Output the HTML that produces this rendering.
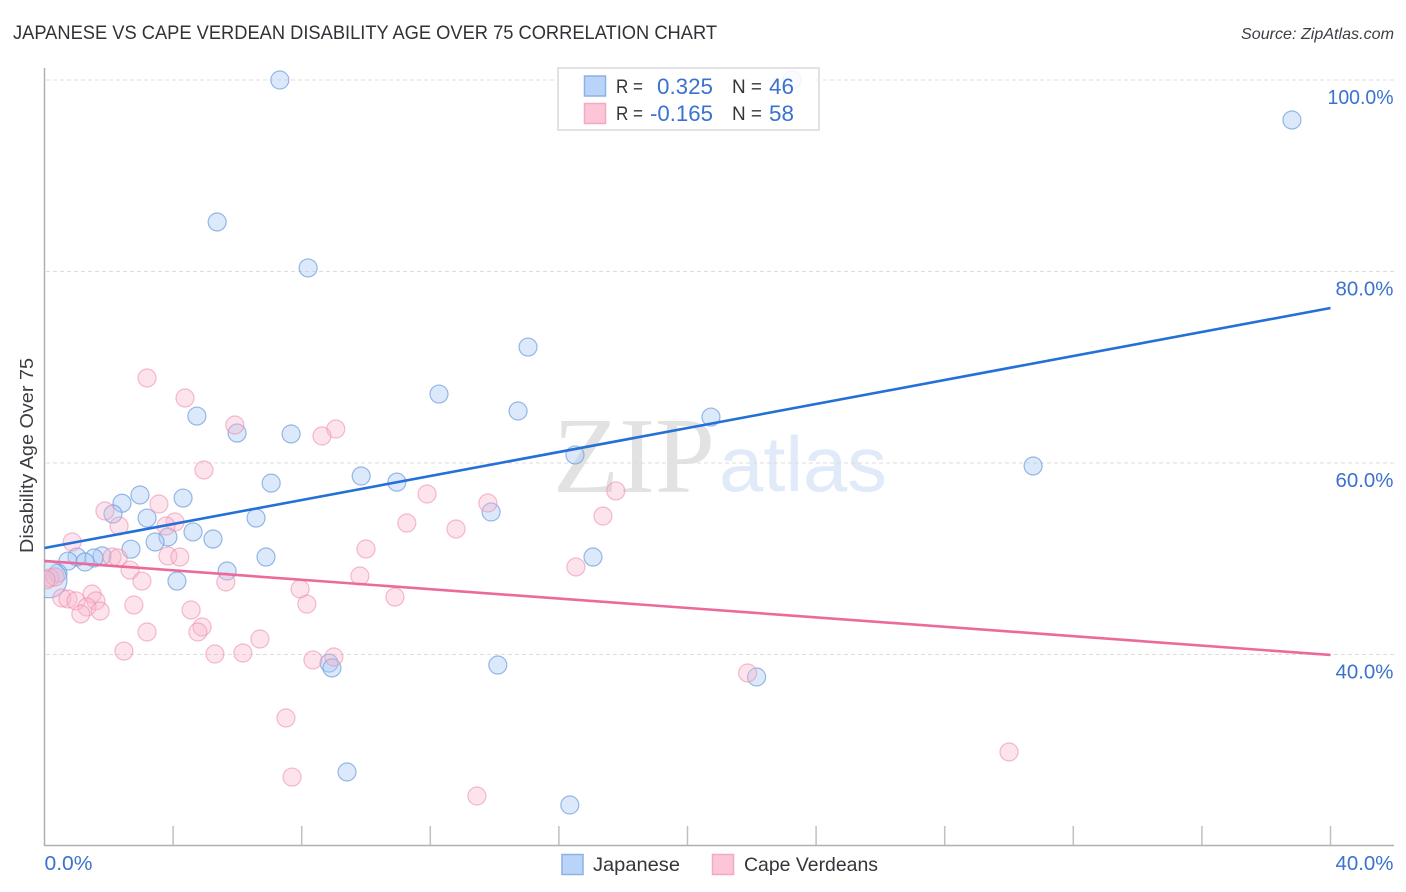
<!DOCTYPE html>
<html lang="en">
<head>
<meta charset="utf-8">
<title>Japanese vs Cape Verdean Disability Age Over 75 Correlation Chart</title>
<style>
html,body{margin:0;padding:0;background:#fff;}
svg{display:block;}
text{font-family:"Liberation Sans",sans-serif;}
</style>
</head>
<body>
<svg id="chart" xmlns="http://www.w3.org/2000/svg" width="1406" height="892" viewBox="0 0 1406 892">
  <rect x="0" y="0" width="1406" height="892" fill="#ffffff"/>
  <text x="13" y="39" font-size="19" fill="#2f3237" textLength="704" lengthAdjust="spacingAndGlyphs">JAPANESE VS CAPE VERDEAN DISABILITY AGE OVER 75 CORRELATION CHART</text>
  <text x="1241" y="39" font-size="16" font-style="italic" fill="#3b3f45" textLength="153" lengthAdjust="spacingAndGlyphs">Source: ZipAtlas.com</text>
  <g id="watermark">
    <text x="553" y="492" font-size="108" fill="#e2e2e2" style="font-family:'Liberation Serif',serif" textLength="162" lengthAdjust="spacingAndGlyphs">ZIP</text>
    <text x="719" y="491" font-size="78" fill="#e0eaf8" textLength="168" lengthAdjust="spacingAndGlyphs">atlas</text>
  </g>
  <g id="grid"></g>
  <g id="axes"></g>
  <g id="points"></g>
  <g id="trends"></g>
  <g id="labels"></g>
  <text transform="translate(33,553) rotate(-90)" font-size="18" fill="#3a3d42" textLength="195" lengthAdjust="spacingAndGlyphs">Disability Age Over 75</text>
  <g>
    <rect x="558" y="68" width="261" height="62" fill="#ffffff" fill-opacity="0.86" stroke="#e2e2e2" stroke-width="2"/>
    <rect x="584.5" y="76" width="21" height="20" fill="#b9d4f8" stroke="#8ab2e6" stroke-width="1.5"/>
    <rect x="584.5" y="103.5" width="21" height="20" fill="#fcc6d8" stroke="#f3a9c2" stroke-width="1.5"/>
    <text x="616" y="93" font-size="19" fill="#33363b" textLength="27" lengthAdjust="spacingAndGlyphs">R =</text>
    <text x="657" y="94" font-size="22" fill="#3b72cf" textLength="56" lengthAdjust="spacingAndGlyphs">0.325</text>
    <text x="732" y="93" font-size="19" fill="#33363b" textLength="30" lengthAdjust="spacingAndGlyphs">N =</text>
    <text x="769" y="94" font-size="22" fill="#3b72cf" textLength="25" lengthAdjust="spacingAndGlyphs">46</text>
    <text x="616" y="120" font-size="19" fill="#33363b" textLength="27" lengthAdjust="spacingAndGlyphs">R =</text>
    <text x="650" y="121" font-size="22" fill="#3b72cf" textLength="63" lengthAdjust="spacingAndGlyphs">-0.165</text>
    <text x="732" y="120" font-size="19" fill="#33363b" textLength="30" lengthAdjust="spacingAndGlyphs">N =</text>
    <text x="769" y="121" font-size="22" fill="#3b72cf" textLength="25" lengthAdjust="spacingAndGlyphs">58</text>
  </g>
  <g>
    <rect x="562" y="854.5" width="21" height="20" fill="#b9d4f8" stroke="#8ab2e6" stroke-width="1.5"/>
    <text x="593" y="871" font-size="19.5" fill="#33363b" textLength="87" lengthAdjust="spacingAndGlyphs">Japanese</text>
    <rect x="712.5" y="854.5" width="21" height="20" fill="#fcc6d8" stroke="#f3a9c2" stroke-width="1.5"/>
    <text x="744" y="871" font-size="19.5" fill="#33363b" textLength="134" lengthAdjust="spacingAndGlyphs">Cape Verdeans</text>
  </g>
</svg>
<script>
const yTickValues = [100, 80, 60, 40];
const yTickLabels = ["100.0%", "80.0%", "60.0%", "40.0%"];
const xTickValues = [0, 4, 8, 12, 16, 20, 24, 28, 32, 36, 40];
const xEndValues = [0, 40];
const xEndLabels = ["0.0%", "40.0%"];

const japaneseX = [7.32,23.25,38.80,5.37,8.20,15.04,12.27,14.73,20.73,4.74,5.99,7.67,16.5,30.75,9.85,10.96,7.05,2.97,4.31,2.41,2.13,13.89,3.19,6.58,4.62,3.84,3.44,5.24,2.69,1.01,1.79,1.54,6.89,17.06,0.73,1.26,4.12,5.68,0.42,0.14,14.10,8.85,8.94,22.15,9.41,16.34];
const japaneseY = [100,100,95.82,85.17,80.37,72.11,67.2,65.43,64.8,64.9,63.13,63.03,60.84,59.69,58.64,58.0,57.9,56.66,56.34,55.8,54.67,54.88,54.25,54.25,52.8,52.27,51.75,52.06,51.0,50.18,50.3,50.08,50.18,50.18,49.76,49.66,47.67,48.72,48.5,47.8,38.9,39.1,38.6,37.65,27.73,24.28];
const japaneseWeight = [1,1,1,1,1,1,1,1,1,1,1,1,1,1,1,1,1,1,1,1,1,1,1,1,1,1,1,1,1,1,1,1,1,1,1,1,1,1,1,4,1,1,1,1,1,1];

const capeVerdeanX = [3.19,4.37,5.92,9.06,8.63,4.96,17.77,11.9,13.79,3.56,1.88,17.37,11.27,4.06,2.32,3.78,12.8,0.86,10.0,3.84,4.21,2.1,2.29,2.66,9.81,16.53,5.64,3.03,0.17,0.33,7.95,10.9,1.48,0.54,0.73,0.98,1.6,1.32,1.13,1.73,2.78,8.16,4.56,4.9,4.77,3.19,6.7,2.47,5.3,6.17,8.35,9.0,21.87,7.51,7.7,30.0,13.45,0.05];
const capeVerdeanY = [68.88,66.79,63.97,63.55,62.82,59.27,57.08,56.76,55.82,55.72,54.99,54.46,53.73,53.84,53.42,53.42,53.11,51.75,51.02,50.29,50.18,50.18,50.08,48.82,48.2,49.14,47.57,47.67,47.99,48.1,46.84,46.0,46.32,45.9,45.8,45.6,45.6,44.96,44.23,44.54,45.17,45.27,44.65,42.87,42.35,42.35,41.62,40.36,40.05,40.16,39.43,39.74,38.07,33.37,27.2,29.82,25.22,47.8];

const japaneseTrendX = [0, 40];
const japaneseTrendY = [51.12, 76.19];
const capeVerdeanTrendX = [0, 40];
const capeVerdeanTrendY = [49.77, 39.95];

const NS = 'http://www.w3.org/2000/svg';
function xScale(v) { return 44.5 + v / 40 * 1286; }
function yScale(v) { return 80 + (100 - v) / 20 * 191.5; }
function make(tag, attrs, parent) {
  const el = document.createElementNS(NS, tag);
  for (const k in attrs) el.setAttribute(k, attrs[k]);
  parent.appendChild(el);
  return el;
}
function labelWidth(s) { return 10 * s.length + 8 - 2 * s.split('1').length + 2; }

const gridG = document.getElementById('grid');
const axesG = document.getElementById('axes');
const pointsG = document.getElementById('points');
const trendsG = document.getElementById('trends');
const labelsG = document.getElementById('labels');

yTickValues.forEach(function (v, i) {
  const line = make('line', {x1: 46, x2: 1394, y1: yScale(v), y2: yScale(v), stroke: '#dcdcdc', 'stroke-width': 1, 'stroke-dasharray': '4 3'}, gridG);
  
  
  const w = labelWidth(yTickLabels[i]);
  const label = make('text', {x: 1393.5 - w, y: yScale(v) + 24, 'font-size': 20, fill: '#3b72cf', textLength: w, lengthAdjust: 'spacingAndGlyphs'}, labelsG);
  label.textContent = yTickLabels[i];
  
  
});

const yAxis = make('line', {x1: 44.5, x2: 44.5, y1: 68, y2: 846, stroke: '#b0b0b0', 'stroke-width': 1.5}, axesG);


const xAxis = make('line', {x1: 44, x2: 1394, y1: 845.5, y2: 845.5, stroke: '#b0b0b0', 'stroke-width': 1.5}, axesG);


xTickValues.forEach(function (v) {
  if (v === 0) return;
  const tick = make('line', {x1: xScale(v), x2: xScale(v), y1: 826, y2: 845, stroke: '#c0c0c0', 'stroke-width': 1.5}, axesG);
  
  
});
xEndValues.forEach(function (v, i) {
  const w = labelWidth(xEndLabels[i]);
  const label = make('text', {x: i === 0 ? xScale(v) : 1393.5 - w, y: 870, 'font-size': 20, fill: '#3b72cf', textLength: w, lengthAdjust: 'spacingAndGlyphs'}, labelsG);
  label.textContent = xEndLabels[i];
  
  
});

const clip = make('clipPath', {id: 'plot-clip'}, document.getElementById('chart'));
make('rect', {x: 44.5, y: 60, width: 1350, height: 786}, clip);
pointsG.setAttribute('clip-path', 'url(#plot-clip)');

japaneseX.forEach(function (v, i) {
  const c = make('circle', {cx: xScale(v), cy: yScale(japaneseY[i]), r: 9 * Math.sqrt(japaneseWeight[i]), fill: '#a9caf5', 'fill-opacity': 0.42, stroke: '#6d9bdc', 'stroke-opacity': 0.7, 'stroke-width': 1.2}, pointsG);
  
  
});
capeVerdeanX.forEach(function (v, i) {
  const c = make('circle', {cx: xScale(v), cy: yScale(capeVerdeanY[i]), r: 9, fill: '#f9b4ca', 'fill-opacity': 0.36, stroke: '#ec8fae', 'stroke-opacity': 0.6, 'stroke-width': 1.2}, pointsG);
  
  
});

const blueTrend = make('line', {x1: xScale(japaneseTrendX[0]), x2: xScale(japaneseTrendX[1]), y1: yScale(japaneseTrendY[0]), y2: yScale(japaneseTrendY[1]), stroke: '#2470d8', 'stroke-width': 2.6}, trendsG);


const pinkTrend = make('line', {x1: xScale(capeVerdeanTrendX[0]), x2: xScale(capeVerdeanTrendX[1]), y1: yScale(capeVerdeanTrendY[0]), y2: yScale(capeVerdeanTrendY[1]), stroke: '#ec6a9b', 'stroke-width': 2.6}, trendsG);


</script>
</body>
</html>
